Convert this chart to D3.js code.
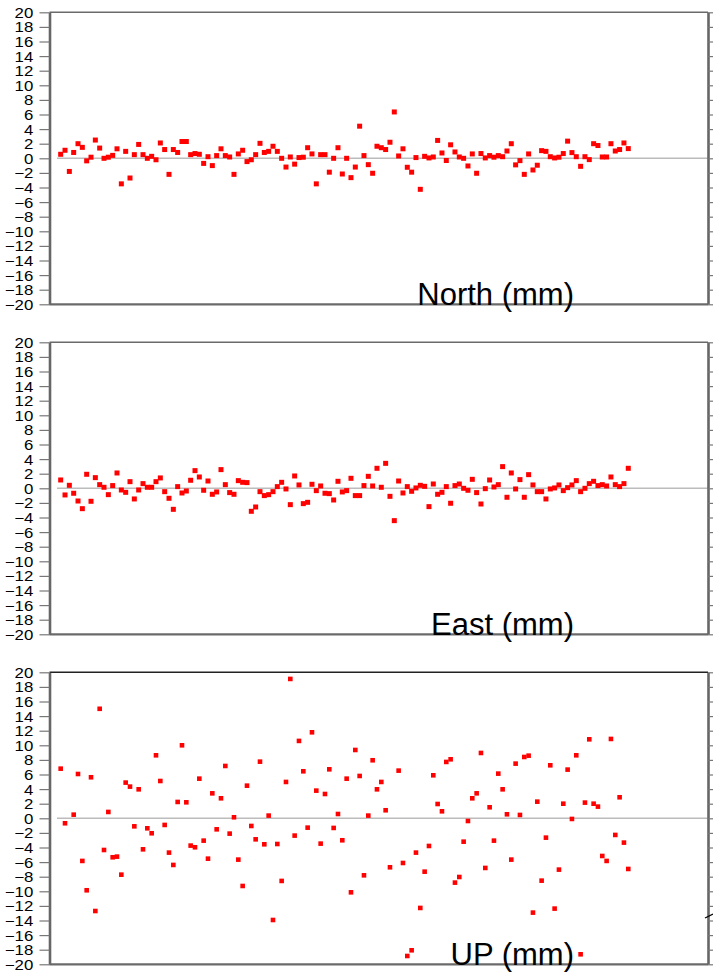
<!DOCTYPE html>
<html><head><meta charset="utf-8">
<script src="https://cdn.jsdelivr.net/npm/d3@7"></script>
<style>body{margin:0;background:#fff}svg{display:block}</style>
</head><body><svg id="c" width="713" height="972"></svg>
<script>
const north=[0.55,1.1,-1.8,0.8,2.0,1.5,-0.35,0.15,2.5,1.4,0,0.15,0.4,1.3,-3.5,0.95,-2.7,0.5,1.9,0.5,0,0.27,-0.2,2.1,1.2,-2.2,1.2,0.8,2.3,2.3,0.5,0.65,0.55,-0.7,0.22,-1.0,0.37,1.3,0.37,0.18,-2.2,0.6,1.1,-0.45,-0.2,0.5,2.05,0.8,0.95,1.65,0.95,0,-1.2,0.18,-0.8,0.1,0.15,1.45,0.6,-3.5,0.5,0.5,-1.9,0,1.45,-2.15,0,-2.65,-1.2,4.4,0.37,-0.87,-2.05,1.65,1.45,1.2,2.2,6.35,0.32,1.3,-1.23,-1.9,0.1,-4.25,0.27,0.05,0.18,2.45,0.73,-0.3,1.85,0.87,0.18,0,-1.05,0.6,-2.05,0.65,0.05,0.37,0.15,0.37,0.22,1.0,2.0,-0.9,-0.32,-2.2,0.6,-1.6,-0.95,1.05,0.95,0.22,0.05,0.15,0.65,2.35,0.78,0.22,-1.1,0.22,-0.18,2.0,1.75,0.18,0.18,2.0,1.0,1.2,2.1,1.33];
const east=[1.14,-0.91,0.41,-0.68,-1.74,-2.79,1.92,-1.78,1.46,0.5,0.14,-0.87,0.37,2.1,-0.23,-0.55,0.91,-1.46,-0.23,0.64,0.14,0.14,0.91,1.42,-0.46,-1.37,-2.88,0.23,-0.64,-0.37,1.1,2.42,1.55,-0.27,1.0,-0.82,-0.5,2.56,0.5,-0.59,-0.82,1.05,0.82,0.78,-3.15,-2.56,-0.46,-1.0,-0.87,-0.46,0.23,0.82,-0.09,-2.24,1.69,0.46,-2.1,-1.92,0.55,-0.32,0.32,-0.68,-0.73,-1.6,0.96,-0.5,-0.32,1.37,-1.0,-1.0,0.37,1.64,0.32,2.74,0.14,3.42,-1.1,-4.43,1.0,-0.64,0.23,-0.41,0.05,0.41,0.27,-2.51,0.59,-0.82,-0.55,0.23,-2.05,0.37,0.59,0,-0.27,1.23,-0.59,-2.15,-0.05,1.14,0.18,0.5,2.97,-1.23,2.1,-0.09,1.19,-1.23,1.87,0.46,-0.46,-0.46,-1.46,-0.09,0.05,0.46,-0.32,0.09,0.46,1.05,-0.46,0,0.64,0.96,0.37,0.5,0.32,1.55,0.5,0.23,0.64,2.74];
const up=[6.8,-0.68,null,0.5,6.07,-5.84,-9.86,5.62,-12.7,15.0,-4.34,0.87,-5.34,-5.25,-7.72,4.89,4.34,-1.1,3.97,-4.25,-1.37,-2.05,8.63,5.11,-0.91,-4.7,-6.39,2.24,10.0,2.19,-3.74,-3.97,5.43,-3.06,-5.53,3.42,-1.51,2.74,7.17,-2.1,0.14,-5.66,-9.27,4.47,-1.05,-2.88,7.76,-3.56,0.37,-13.93,-3.52,-8.58,4.98,19.09,-2.37,10.6,6.44,-1.28,11.78,3.79,-3.47,3.33,6.71,-1.32,0.59,-3.01,5.43,-10.14,9.36,5.8,-7.81,0.37,7.95,3.97,4.98,1.1,-6.71,null,6.53,-6.12,-18.86,-18.08,-4.7,-12.28,-7.31,-3.79,5.89,1.96,0.96,7.72,8.08,-8.81,-8.04,-3.2,-0.37,2.74,3.42,8.95,-6.8,1.51,-3.06,6.12,3.97,0.55,-5.66,7.49,0.46,8.4,8.58,-12.92,2.28,-8.54,-2.65,7.26,-12.37,-7.03,2.0,6.67,-0.09,8.63,-18.63,2.15,10.82,2.0,1.6,-5.16,-5.84,10.87,-2.28,2.88,-3.33,-6.94];
const yTicks=[20,18,16,14,12,10,8,6,4,2,0,-2,-4,-6,-8,-10,-12,-14,-16,-18,-20];
const titles=["North (mm)","East (mm)","UP (mm)"];

const svg=d3.select("#c");
const left=49.5,right=708,ph=292;
const tops=[12.3,342.3,672.3];
const markSize=[5,5,4.6];
const x=d3.scaleLinear().domain([-1.58,150.4]).range([left,right]);

[north,east,up].forEach((vals,k)=>{
  const top=tops[k];
  const y=d3.scaleLinear().domain([-20,20]).range([top+ph,top]);
  const g=svg.append("g");
  g.append("line").attr("x1",57).attr("x2",right).attr("y1",y(0)).attr("y2",y(0))
    .attr("stroke","#bcbcbc").attr("stroke-width",1.4);
  g.append("line").attr("x1",left).attr("x2",right).attr("y1",top).attr("y2",top)
    .attr("stroke",k===2?"#222":"#6a6a6a").attr("stroke-width",1.6);
  g.append("line").attr("x1",left).attr("x2",right).attr("y1",top+ph).attr("y2",top+ph)
    .attr("stroke","#6a6a6a").attr("stroke-width",2.2);
  const ax=g.append("g").attr("transform",`translate(${left},0)`)
    .call(d3.axisLeft(y).tickValues(yTicks).tickSize(10).tickSizeOuter(0));
  ax.select(".domain").attr("stroke","#666").attr("stroke-width",2.6);
  ax.selectAll(".tick line").attr("stroke","#777").attr("stroke-width",1.2);
  ax.selectAll(".tick text")
    .attr("font-family","'Liberation Sans', Arial, sans-serif")
    .attr("font-size",14).attr("fill","#000")
    .attr("transform","scale(1.2,1)")
    .attr("x",-16.2/1.2).attr("dy","0.36em");
  const ar=g.append("g").attr("transform",`translate(${right},0)`)
    .call(d3.axisRight(y).tickValues(yTicks).tickSize(6).tickSizeOuter(0).tickFormat(""));
  ar.select(".domain").attr("stroke","#666").attr("stroke-width",2.6);
  ar.selectAll(".tick line").attr("stroke","#777").attr("stroke-width",1.2);
  const s=markSize[k];
  g.append("g").selectAll("rect")
    .data(vals.map((v,i)=>({i:i+1,v})).filter(d=>d.v!==null))
    .join("rect")
    .attr("x",d=>x(d.i)-s/2).attr("y",d=>y(d.v)-s/2)
    .attr("width",s).attr("height",s).attr("fill","#ff0000");
  g.append("text").attr("x",574).attr("y",top+ph+1)
    .attr("text-anchor","end")
    .attr("font-family","'Liberation Sans', Arial, sans-serif")
    .attr("font-size",31).attr("fill","#000")
    .text(titles[k]);
});
svg.append("line").attr("x1",705).attr("y1",918).attr("x2",713).attr("y2",914)
  .attr("stroke","#000").attr("stroke-width",1.2);
</script></body></html>
